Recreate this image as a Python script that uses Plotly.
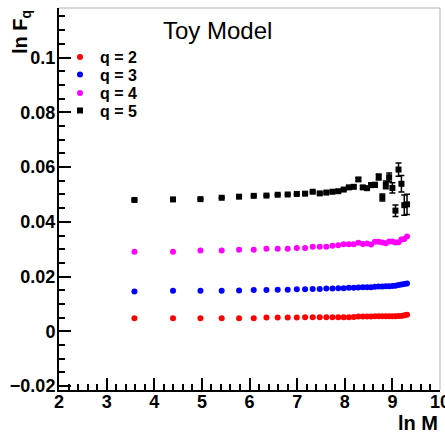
import plotly.graph_objects as go

# ln M sample points
ln_m = [3.584, 4.394, 4.970, 5.416, 5.781, 6.089, 6.356, 6.592, 6.802, 6.993,
        7.167, 7.327, 7.475, 7.613, 7.742, 7.864, 7.978, 8.086, 8.189, 8.286,
        8.379, 8.468, 8.553, 8.635, 8.713, 8.789, 8.862, 8.932, 9.000, 9.065,
        9.129, 9.190, 9.250, 9.308]

# ln F_q for each moment order
lnf_q2 = [0.0048, 0.0048, 0.0048, 0.0048, 0.0048, 0.0048, 0.0051, 0.0051, 0.0051, 0.0051,
          0.0052, 0.0052, 0.0052, 0.0052, 0.0052, 0.0052, 0.0052, 0.0052, 0.0053, 0.0054,
          0.0054, 0.0054, 0.0054, 0.0055, 0.0055, 0.0055, 0.0055, 0.0055, 0.0055, 0.0055,
          0.0056, 0.0056, 0.0059, 0.0061]
lnf_q3 = [0.0146, 0.0148, 0.0148, 0.0148, 0.0149, 0.0151, 0.0151, 0.0152, 0.0152, 0.0154,
          0.0154, 0.0155, 0.0155, 0.0157, 0.0157, 0.0158, 0.0158, 0.0159, 0.0159, 0.0160,
          0.0161, 0.0161, 0.0161, 0.0163, 0.0164, 0.0164, 0.0165, 0.0165, 0.0166, 0.0167,
          0.0169, 0.0171, 0.0173, 0.0175]
lnf_q4 = [0.0291, 0.0291, 0.0295, 0.0295, 0.0298, 0.0298, 0.0302, 0.0302, 0.0302, 0.0305,
          0.0305, 0.0309, 0.0309, 0.0309, 0.0313, 0.0315, 0.0318, 0.0318, 0.0318, 0.0324,
          0.0319, 0.0321, 0.0317, 0.0327, 0.0327, 0.0325, 0.0322, 0.0328, 0.0328, 0.0325,
          0.0326, 0.0336, 0.0337, 0.0347]
lnf_q5 = [0.0480, 0.0482, 0.0483, 0.0488, 0.0492, 0.0495, 0.0496, 0.0499, 0.0500, 0.0502,
          0.0503, 0.0510, 0.0504, 0.0507, 0.0510, 0.0512, 0.0518, 0.0526, 0.0528, 0.0555,
          0.0526, 0.0523, 0.0534, 0.0535, 0.0564, 0.0489, 0.0535, 0.0563, 0.0524, 0.0441,
          0.0591, 0.0539, 0.0461, 0.0464]
err_q5 = [0.0002, 0.0002, 0.0002, 0.0002, 0.0002, 0.0002, 0.0002, 0.0002, 0.0002, 0.0002,
          0.0002, 0.0003, 0.0003, 0.0003, 0.0003, 0.0004, 0.0004, 0.0005, 0.0005, 0.0006,
          0.0006, 0.0007, 0.0008, 0.0009, 0.0011, 0.0013, 0.0014, 0.0015, 0.0019, 0.0021,
          0.0024, 0.0030, 0.0037, 0.0037]

series_names = ["q = 2", "q = 3", "q = 4", "q = 5"]
series_colors = ["#ff0000", "#0000ff", "#ff00ff", "#000000"]

FONT = "Liberation Sans, Arial, Helvetica, sans-serif"

fig = go.Figure()
values = [lnf_q2, lnf_q3, lnf_q4, lnf_q5]
legend_ids = ["legend", "legend2", "legend3", "legend4"]
for i, (name, col, yv) in enumerate(zip(series_names, series_colors, values)):
    kw = {}
    if i == 3:
        kw["error_y"] = dict(type="data", array=err_q5, visible=True,
                             color="black", thickness=1.5, width=3)
    fig.add_trace(go.Scatter(
        x=ln_m, y=yv, mode="markers", name=name,
        marker=dict(color=col, size=6, symbol="circle" if i < 3 else "square",
                    line=dict(width=0)),
        legend=legend_ids[i], **kw))

# plot-area geometry (pixels) for placing text
L, R, T, B = 59, 440, 8, 390
W, H = R - L, B - T


def px(xp):
    return (xp - L) / W


def py(yp):
    return (B - yp) / H


legend_rows = [57, 74.5, 93, 110.5]
layout_legends = {}
for lid, row in zip(legend_ids, legend_rows):
    layout_legends[lid] = dict(
        x=px(60), y=py(row), xanchor="left", yanchor="middle",
        bgcolor="rgba(0,0,0,0)", borderwidth=0,
        font=dict(family=FONT, size=16, color="black", weight="bold"),
        itemsizing="trace")

fig.update_layout(
    width=445, height=434,
    margin=dict(l=L, r=445 - R, t=T, b=434 - B, autoexpand=False),
    paper_bgcolor="white", plot_bgcolor="white",
    showlegend=True,
    font=dict(family=FONT, color="black"),
    xaxis=dict(range=[2, 10], dtick=1, tick0=0, showgrid=False, zeroline=False,
               automargin=False,
               showline=True, linecolor="black", linewidth=2,
               ticks="inside", ticklen=12, tickwidth=1.5, tickcolor="black",
               ticklabeloverflow="allow", ticklabelstandoff=-6,
               minor=dict(ticks="inside", ticklen=6, dtick=0.2, tickwidth=1.5,
                          tickcolor="black", showgrid=False),
               tickfont=dict(family=FONT, size=18, color="black", weight="bold")),
    yaxis=dict(range=[-0.0214, 0.1181], dtick=0.02, tick0=0, showgrid=False,
               zeroline=False, automargin=False,
               showline=True, linecolor="black", linewidth=2,
               ticks="inside", ticklen=12, tickwidth=1.5, tickcolor="black",
               ticklabeloverflow="allow", ticklabelstandoff=-2,
               minor=dict(ticks="inside", ticklen=6, dtick=0.005, tickwidth=1.5,
                          tickcolor="black", showgrid=False),
               tickfont=dict(family=FONT, size=18, color="black", weight="bold")),
    **layout_legends,
)

# light frame on the top and right edges
fig.add_shape(type="line", xref="paper", yref="paper", x0=0, x1=1, y0=1, y1=1,
              line=dict(color="#b0b0b0", width=1))
fig.add_shape(type="line", xref="paper", yref="paper", x0=1, x1=1, y0=0, y1=1,
              line=dict(color="#b0b0b0", width=1))

fig.add_annotation(text="Toy Model", xref="paper", yref="paper",
                   x=px(217), y=py(31), xanchor="center", yanchor="middle",
                   showarrow=False, font=dict(family=FONT, size=24, color="black"))
fig.add_annotation(text="ln M", xref="paper", yref="paper",
                   x=px(440), y=py(423), xanchor="right", yanchor="middle",
                   showarrow=False,
                   font=dict(family=FONT, size=20, color="black", weight="bold"))
fig.add_annotation(text="ln F<sub>q</sub>", xref="paper", yref="paper",
                   x=px(21), y=py(8), xanchor="center", yanchor="top",
                   textangle=-90, showarrow=False,
                   font=dict(family=FONT, size=20, color="black", weight="bold"))

fig.write_html("out.html")
